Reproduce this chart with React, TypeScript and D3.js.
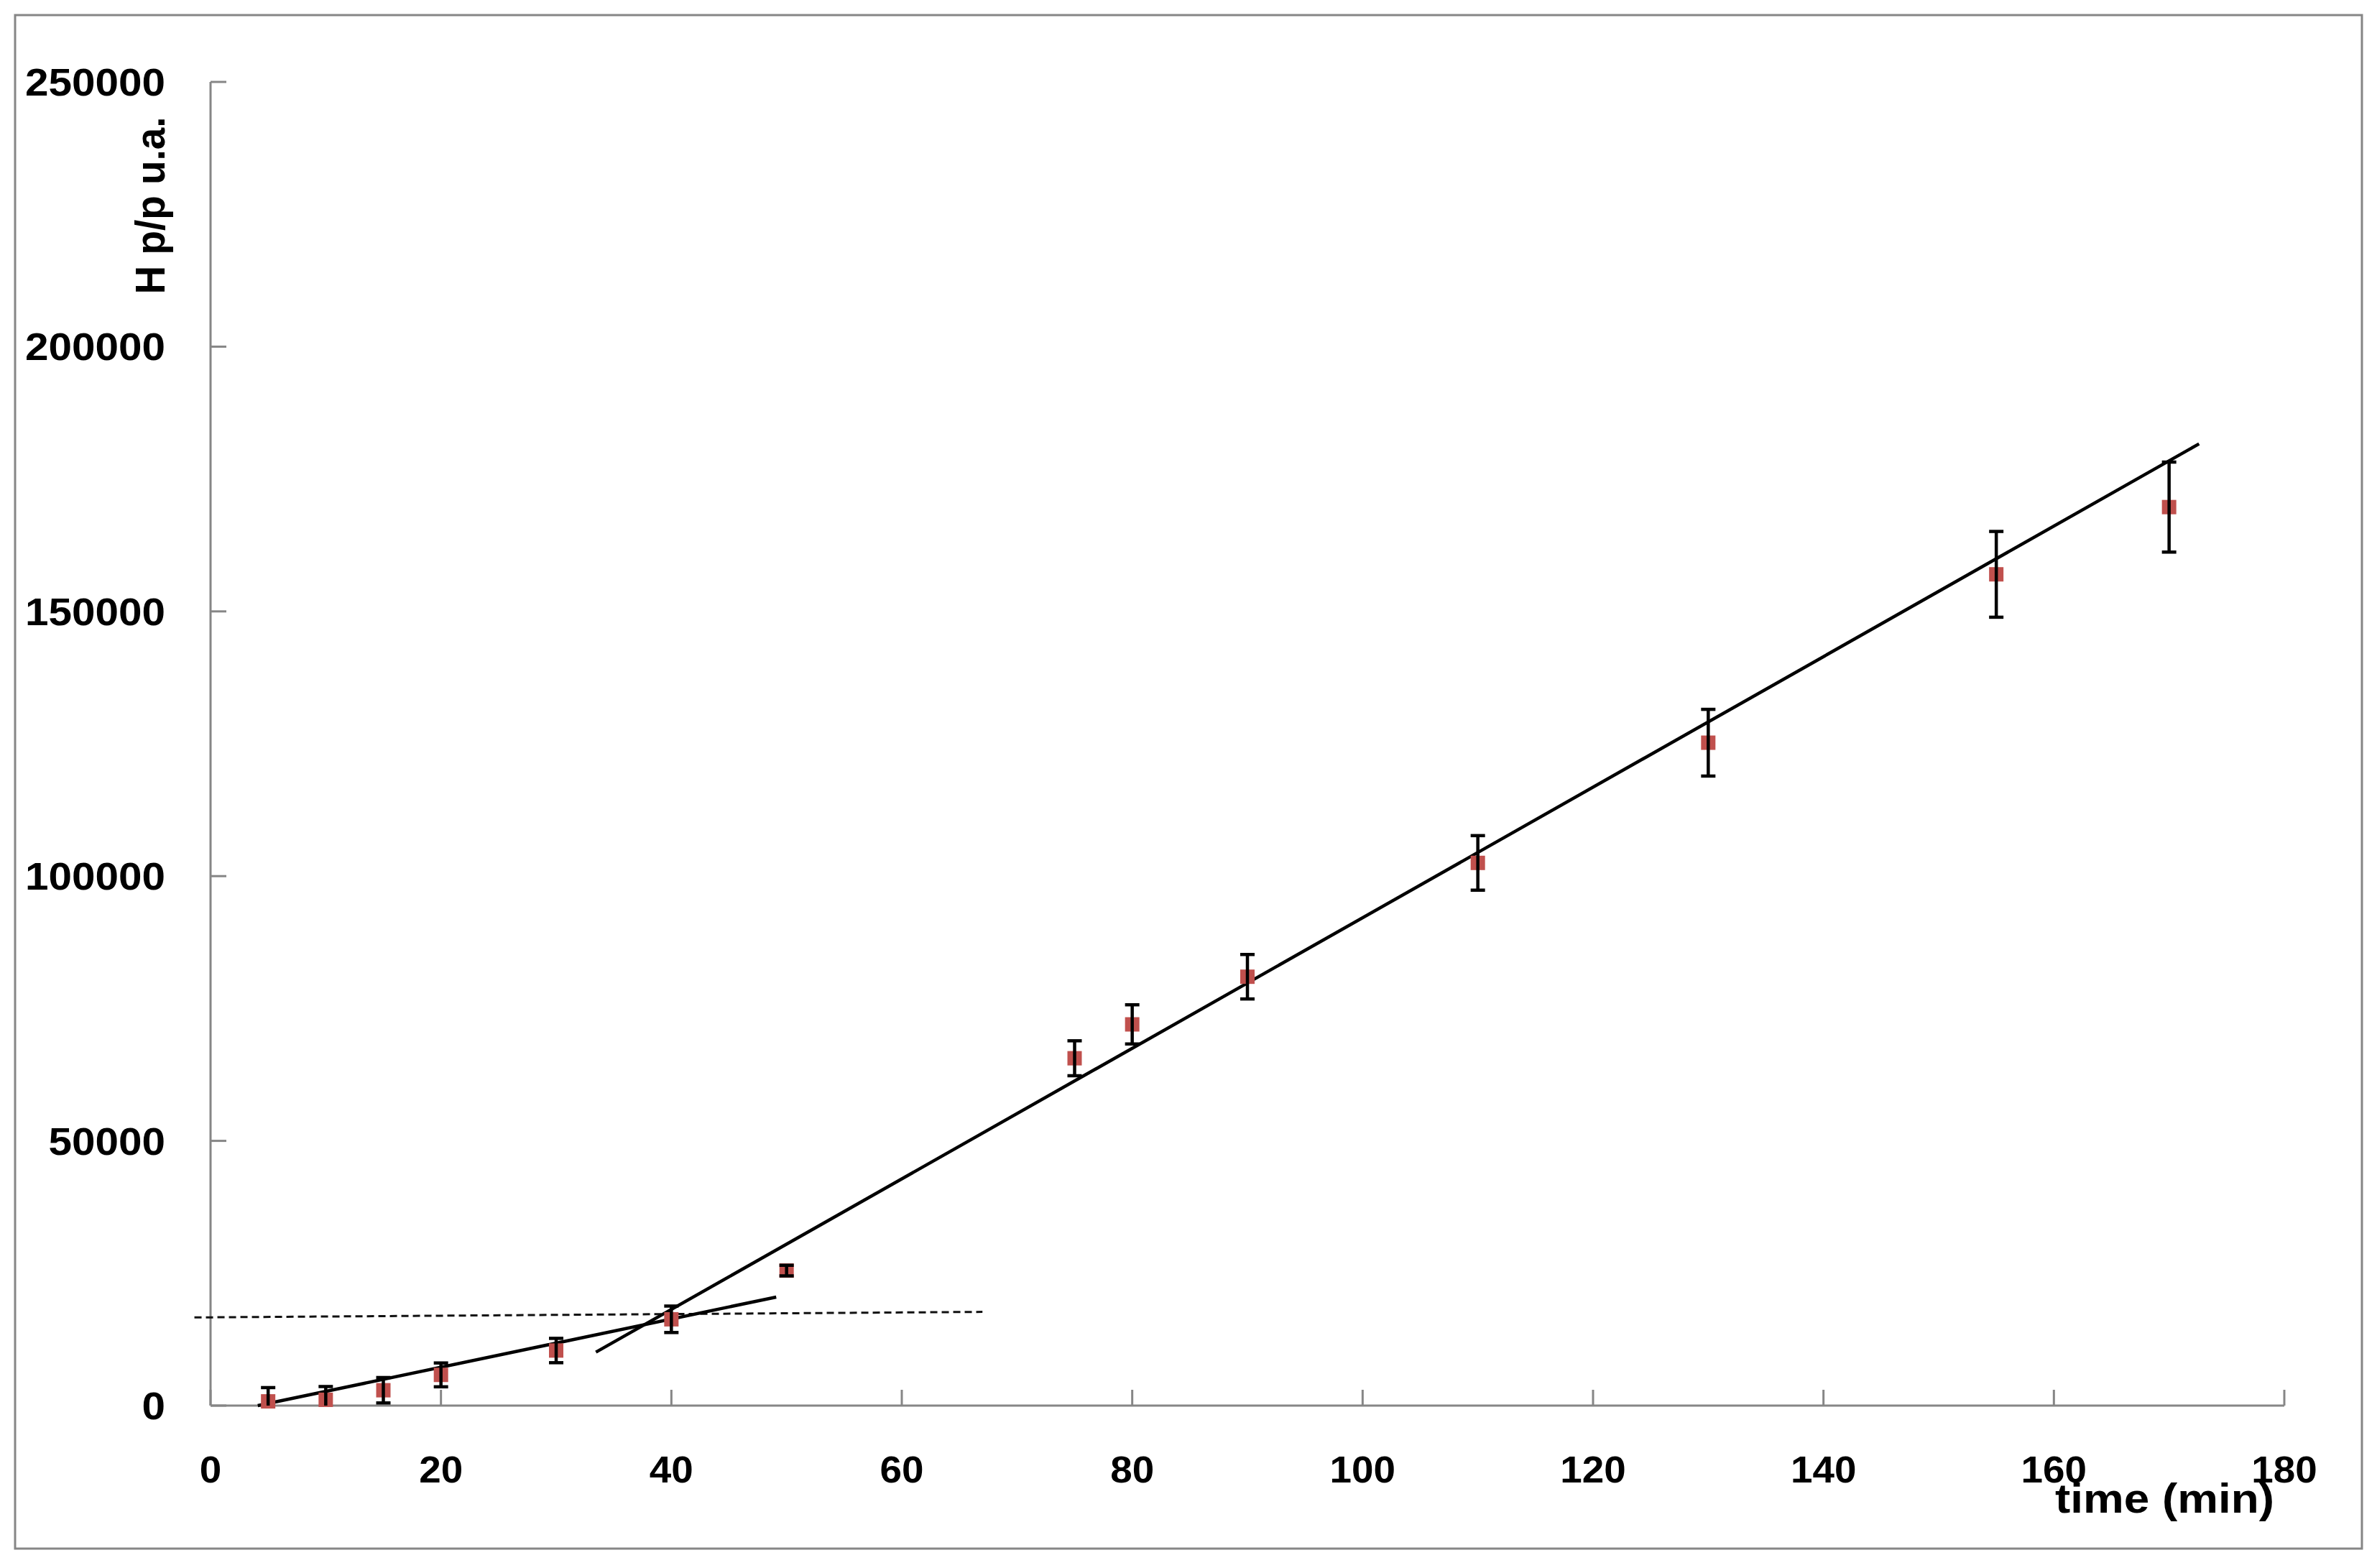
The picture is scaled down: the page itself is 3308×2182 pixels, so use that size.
import React from 'react';
import * as d3 from 'd3';

// measured points (time in min, H p/p in u.a.) with error bar half-widths
const timeMin = [5, 10, 15, 20, 30, 40, 50, 75, 80, 90, 110, 130, 155, 170];
const signal = [800, 1100, 2900, 5800, 10400, 16300, 25500, 65600, 72000, 81000, 102500, 125200, 157000, 169700];
const errors = [2600, 2500, 2400, 2250, 2300, 2500, 1000, 3300, 3700, 4200, 5150, 6300, 8100, 8500];

// fitted lines, endpoints in data units
const fitSlow = [[4.1, 0], [49.1, 20500]];
const fitFast = [[33.45, 10090], [172.6, 181650]];
const thresholdLine = [[-1.4, 16650], [67, 17700]];

const xTicks = [0, 20, 40, 60, 80, 100, 120, 140, 160, 180];
const yTicks = [0, 50000, 100000, 150000, 200000, 250000];

const W = 3308;
const H = 2182;
const FONT = '"Liberation Sans", Arial, sans-serif';
const AXIS = '#868686';

const App = () => {
  const x = d3.scaleLinear().domain([0, 180]).range([293, 3179]);
  const y = d3.scaleLinear().domain([0, 250000]).range([1956, 114]);

  const line = d3.line<number[]>()
    .x(d => x(d[0]))
    .y(d => y(d[1]));

  const points = timeMin.map((t, i) => ({ t, v: signal[i], e: errors[i] }));

  return (
    <div style={{ position: 'absolute', left: 0, top: 0 }}>
      <svg width={W} height={H} style={{ display: 'block', background: '#fff' }}>
        <rect x={0} y={0} width={W} height={H} fill="#fff" />
        <rect x={21} y={21} width={3266} height={2134} fill="none" stroke={AXIS} strokeWidth={3} />

        {/* axes */}
        <line x1={x(0)} x2={x(0)} y1={y(250000)} y2={y(0)} stroke={AXIS} strokeWidth={3} />
        <line x1={x(0)} x2={x(180)} y1={y(0)} y2={y(0)} stroke={AXIS} strokeWidth={3} />
        {yTicks.map(v => (
          <g key={'y' + v}>
            <line x1={x(0)} x2={x(0) + 22} y1={y(v)} y2={y(v)} stroke={AXIS} strokeWidth={3} />
            <text x={230} y={y(v) + 19} textAnchor="end" fontFamily={FONT} fontWeight="bold"
              fontSize={54} textLength={String(v).length * 32.5} lengthAdjust="spacingAndGlyphs"
              fill="#000">{v}</text>
          </g>
        ))}
        {xTicks.map(v => (
          <g key={'x' + v}>
            <line x1={x(v)} x2={x(v)} y1={y(0)} y2={y(0) - 22} stroke={AXIS} strokeWidth={3} />
            <text x={x(v)} y={2063} textAnchor="middle" fontFamily={FONT} fontWeight="bold"
              fontSize={51} textLength={String(v).length * 30.5} lengthAdjust="spacingAndGlyphs"
              fill="#000">{v}</text>
          </g>
        ))}

        <text transform="translate(229,286) rotate(-90)" textAnchor="middle" fontFamily={FONT}
          fontWeight="bold" fontSize={58} textLength={247} lengthAdjust="spacingAndGlyphs"
          fill="#000">H p/p u.a.</text>
        <text x={2860} y={2105} fontFamily={FONT} fontWeight="bold" fontSize={58}
          textLength={305} lengthAdjust="spacingAndGlyphs" fill="#000">time (min)</text>

        {/* fits */}
        <path d={line(thresholdLine) || ''} fill="none" stroke="#111" strokeWidth={3} strokeDasharray="10 6" />
        <path d={line(fitSlow) || ''} fill="none" stroke="#000" strokeWidth={4.5} />
        <path d={line(fitFast) || ''} fill="none" stroke="#000" strokeWidth={4.5} />

        {/* data with error bars */}
        {points.map(p => {
          const lo = Math.max(0, p.v - p.e);
          const hi = p.v + p.e;
          const cx = x(p.t);
          return (
            <g key={'p' + p.t}>
              <rect x={cx - 10} y={y(p.v) - 10} width={20} height={20} fill="#c0504d" />
              <line x1={cx} x2={cx} y1={y(hi)} y2={y(lo)} stroke="#000" strokeWidth={4.5} />
              <line x1={cx - 10} x2={cx + 10} y1={y(hi)} y2={y(hi)} stroke="#000" strokeWidth={4.5} />
              {p.v - p.e >= 0 && (
                <line x1={cx - 10} x2={cx + 10} y1={y(lo)} y2={y(lo)} stroke="#000" strokeWidth={4.5} />
              )}
            </g>
          );
        })}
      </svg>
    </div>
  );
};

export default App;
